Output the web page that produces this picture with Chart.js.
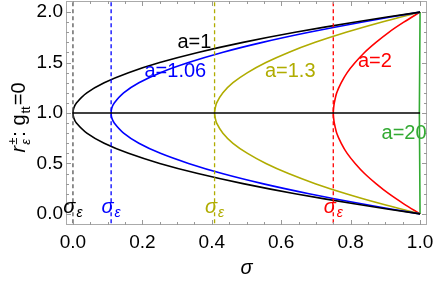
<!DOCTYPE html>
<html>
<head>
<meta charset="utf-8">
<script src="https://cdn.jsdelivr.net/npm/chart.js@4.4.0/dist/chart.umd.min.js"></script>
<style>
  body { margin: 0; background: #fff; }
</style>
</head>
<body>
<canvas id="chart" width="436" height="282"></canvas>
<script>
// r values (y) shared by every curve
const rLevels = [0, 0.1, 0.2, 0.3, 0.4, 0.5, 0.6, 0.7, 0.8, 0.9, 0.95, 1.0, 1.05, 1.1, 1.2, 1.3, 1.4, 1.5, 1.6, 1.7, 1.8, 1.9, 2.0];

// sigma at those r values
const sigmaA1   = [1, 0.81, 0.64, 0.49, 0.36, 0.25, 0.16, 0.09, 0.04, 0.01, 0.0025, 0, 0.0025, 0.01, 0.04, 0.09, 0.16, 0.25, 0.36, 0.49, 0.64, 0.81, 1];
const sigmaA106 = [1, 0.831, 0.68, 0.546, 0.43, 0.333, 0.252, 0.19, 0.146, 0.119, 0.112, 0.11, 0.112, 0.119, 0.146, 0.19, 0.252, 0.333, 0.43, 0.546, 0.68, 0.831, 1];
const sigmaA13  = [1, 0.888, 0.787, 0.698, 0.621, 0.556, 0.503, 0.461, 0.432, 0.414, 0.41, 0.408, 0.41, 0.414, 0.432, 0.461, 0.503, 0.556, 0.621, 0.698, 0.787, 0.888, 1];
const sigmaA2   = [1, 0.953, 0.91, 0.873, 0.84, 0.813, 0.79, 0.773, 0.76, 0.753, 0.751, 0.75, 0.751, 0.753, 0.76, 0.773, 0.79, 0.813, 0.84, 0.873, 0.91, 0.953, 1];
const rA20      = [0, 1, 2];
const sigmaA20  = [1, 0.998, 1];

const curveNames = ['a=1', 'a=1.06', 'a=1.3', 'a=2', 'a=20'];
const sigmaEps   = [0, 0.11, 0.408, 0.75];

const xTickValues = [0, 0.2, 0.4, 0.6, 0.8, 1.0];
const yTickValues = [0, 0.5, 1.0, 1.5, 2.0];

const colors = {
    black: '#000000',
    blue: '#0000ff',
    olive: '#b0ac00',
    red: '#ff0000',
    green: '#33aa33'
};
const curveColors = [colors.black, colors.blue, colors.olive, colors.red, colors.green];

// where the curve names sit, in data coordinates
const namePos = [[0.35, 1.70], [0.295, 1.41], [0.626, 1.41], [0.87, 1.51], [0.954, 0.795]];

const fontFamily = "'Liberation Sans', Arial, sans-serif";
Chart.defaults.font.family = fontFamily;

function toPoints(xs, ys) {
    return xs.map((x, i) => ({ x: x, y: ys[i] }));
}

function curve(xs, ys, color, tension) {
    return {
        data: toPoints(xs, ys),
        borderColor: color,
        borderWidth: 1.6,
        showLine: true,
        pointRadius: 0,
        tension: tension === undefined ? 0.3 : tension,
        fill: false
    };
}

const datasets = [];
// dashed sigma_eps markers
sigmaEps.forEach((s, i) => {
    datasets.push({
        data: [{ x: s, y: -0.3 }, { x: s, y: 2.3 }],
        borderColor: i === 0 ? '#555555' : curveColors[i],
        borderWidth: 1.3,
        borderDash: [4, 3],
        showLine: true,
        pointRadius: 0
    });
});
// r = 1 line
datasets.push(curve([0, 1], [1, 1], colors.black, 0));
datasets.push(curve(sigmaA1, rLevels, colors.black));
datasets.push(curve(sigmaA106, rLevels, colors.blue));
datasets.push(curve(sigmaA13, rLevels, colors.olive));
datasets.push(curve(sigmaA2, rLevels, colors.red));
datasets.push(curve(sigmaA20, rA20, colors.green, 0));

const framePlugin = {
    id: 'frame',
    afterDraw(chart) {
        const ctx = chart.ctx;
        const a = chart.chartArea;
        const xs = chart.scales.x;
        const ys = chart.scales.y;
        ctx.save();

        // frame
        ctx.strokeStyle = '#aaaaaa';
        ctx.lineWidth = 1;
        ctx.strokeRect(a.left + 0.5, a.top + 0.5, a.right - a.left - 1, a.bottom - a.top - 1);

        // ticks inside the frame
        ctx.strokeStyle = '#999999';
        ctx.beginPath();
        for (let i = 0; i <= 20; i++) {
            const v = i * 0.05;
            const len = (i % 4 === 0) ? 5 : 3;
            const px = Math.round(xs.getPixelForValue(v)) + 0.5;
            ctx.moveTo(px, a.bottom); ctx.lineTo(px, a.bottom - len);
            ctx.moveTo(px, a.top); ctx.lineTo(px, a.top + len);
        }
        for (let i = 0; i <= 20; i++) {
            const v = i * 0.1;
            const len = (i % 5 === 0) ? 5 : 3;
            const py = Math.round(ys.getPixelForValue(v)) + 0.5;
            ctx.moveTo(a.left, py); ctx.lineTo(a.left + len, py);
            ctx.moveTo(a.right, py); ctx.lineTo(a.right - len, py);
        }
        ctx.stroke();

        // curve names
        ctx.font = '20px ' + fontFamily;
        ctx.textAlign = 'center';
        ctx.textBaseline = 'middle';
        curveNames.forEach((name, i) => {
            ctx.fillStyle = curveColors[i];
            ctx.fillText(name, xs.getPixelForValue(namePos[i][0]), ys.getPixelForValue(namePos[i][1]));
        });

        // sigma_eps labels
        sigmaEps.forEach((s, i) => {
            const cx = xs.getPixelForValue(s);
            const cy = ys.getPixelForValue(0.07);
            ctx.font = 'italic 20px ' + fontFamily;
            const w1 = ctx.measureText('σ').width;
            ctx.font = 'italic 14px ' + fontFamily;
            const w2 = ctx.measureText('ε').width;
            const x0 = cx - (w1 + w2 + 1) / 2;
            ctx.fillStyle = curveColors[i];
            ctx.textAlign = 'left';
            ctx.textBaseline = 'alphabetic';
            ctx.font = 'italic 20px ' + fontFamily;
            ctx.fillText('σ', x0, cy + 6);
            ctx.font = 'italic 14px ' + fontFamily;
            ctx.fillText('ε', x0 + w1 + 1, cy + 10);
        });

        // y axis title: r^±_ε : g_tt=0
        ctx.translate(18, 117);
        ctx.rotate(-Math.PI / 2);
        ctx.fillStyle = '#000';
        ctx.textAlign = 'left';
        ctx.textBaseline = 'alphabetic';
        const parts = [
            { t: 'r', f: 'italic 20px', dy: 0 },
            { t: '±', f: '13px', dy: -8, stackWith: { t: 'ε', f: 'italic 13px', dy: 5 } },
            { t: ': g', f: '20px', dy: 0 },
            { t: 'tt', f: '13px', dy: 5 },
            { t: '=0', f: '20px', dy: 0 }
        ];
        let total = 0;
        parts.forEach(p => {
            ctx.font = p.f + ' ' + fontFamily;
            let w = ctx.measureText(p.t).width;
            if (p.stackWith) {
                ctx.font = p.stackWith.f + ' ' + fontFamily;
                w = Math.max(w, ctx.measureText(p.stackWith.t).width);
            }
            p.w = w + 1;
            total += p.w;
        });
        let x = -total / 2;
        parts.forEach(p => {
            ctx.font = p.f + ' ' + fontFamily;
            ctx.fillText(p.t, x, 7 + p.dy);
            if (p.stackWith) {
                ctx.font = p.stackWith.f + ' ' + fontFamily;
                ctx.fillText(p.stackWith.t, x, 7 + p.stackWith.dy);
            }
            x += p.w;
        });
        ctx.restore();
    }
};

new Chart(document.getElementById('chart').getContext('2d'), {
    type: 'scatter',
    data: { datasets: datasets },
    options: {
        responsive: false,
        animation: false,
        layout: { padding: { left: 0, top: 1, right: 9, bottom: 0 } },
        plugins: {
            legend: { display: false },
            tooltip: { enabled: false }
        },
        scales: {
            x: {
                type: 'linear',
                min: -0.02,
                max: 1.02,
                afterBuildTicks: s => { s.ticks = xTickValues.map(v => ({ value: v })); },
                afterFit: s => { s.height = 57; s.paddingLeft = 0; s.paddingRight = 0; },
                grid: { display: false, drawTicks: false },
                border: { display: false },
                ticks: {
                    padding: 6,
                    color: '#000',
                    font: { size: 19 },
                    maxRotation: 0,
                    callback: v => v.toFixed(1)
                },
                title: {
                    display: true,
                    text: 'σ',
                    color: '#000',
                    font: { size: 20, style: 'italic' },
                    padding: { top: 0, bottom: 2 }
                }
            },
            y: {
                type: 'linear',
                min: -0.11,
                max: 2.11,
                afterBuildTicks: s => { s.ticks = yTickValues.map(v => ({ value: v })); },
                afterFit: s => { s.width = 66; s.paddingTop = 0; s.paddingBottom = 0; },
                grid: { display: false, drawTicks: false },
                border: { display: false },
                ticks: {
                    padding: 3,
                    color: '#000',
                    font: { size: 19 },
                    callback: v => v.toFixed(1)
                }
            }
        }
    },
    plugins: [framePlugin]
});
</script>
</body>
</html>
